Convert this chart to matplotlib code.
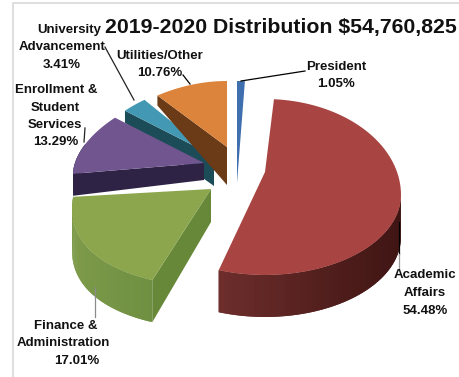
import numpy as np
import matplotlib
matplotlib.use("Agg")
import matplotlib.pyplot as plt
from matplotlib.colors import to_rgb

plt.rcParams["font.family"] = ["Liberation Sans", "DejaVu Sans"]

# Budget shares in percent, clockwise from twelve o'clock
departments = ["President", "Academic Affairs", "Finance & Administration",
               "Enrollment & Student Services", "University Advancement",
               "Utilities/Other"]
shares = [1.05, 54.48, 17.01, 13.29, 3.41, 10.76]
chart_title = "2019-2020 Distribution $54,760,825"

# Exploded position and tilted-disc shape of each slice, in figure pixels
apex_x = [237, 265, 211, 204, 214, 227]
apex_y = [183, 172, 189, 163, 156, 147]
rim_cy = [183, 195, 180.5, 163, 156, 147]
radius_x = [120, 136, 133, 129, 129, 133]
taper = [0.0, 0.0, 0.315, 0.178, 0.178, 0.21]
radius_up = [102, 96, 72, 72, 72, 66]
radius_down = [100, 80, 106, 70, 70, 70]
apex_depth = [0, 0, 33, 17, 30, 38]
max_depth = [0, 42, 42, 22, 12, 12]

top_colors = ["#3f6fae", "#a84543", "#8ba64d", "#70558f", "#4398b3", "#dc843c"]
wall_left = ["#2c4f80", "#6e2e2c", "#7d9b49", "#2e2245", "#1c4c58", "#6b3a17"]
wall_right = ["#2c4f80", "#3f1513", "#6f8f42", "#2e2245", "#1c4c58", "#6b3a17"]
cut_colors = ["#2c4f80", "#5a2422", "#678839", "#2e2245", "#1c4c58", "#6b3a17"]
draw_order = [4, 5, 0, 3, 2, 1]

W, H = 459, 377
fig = plt.figure(figsize=(W / 100, H / 100), dpi=100)
ax = fig.add_axes([0, 0, 1, 1])
ax.set_xlim(0, W)
ax.set_ylim(H, 0)
ax.axis("off")


def rim(i, angles):
    """Project clockwise angles (radians from the top) onto the slice's tilted rim."""
    s, c = np.sin(angles), np.cos(angles)
    x = apex_x[i] + radius_x[i] * (1 - taper[i] * c) * s
    y = rim_cy[i] - np.where(c > 0, radius_up[i], radius_down[i]) * c
    return x, y


def thickness(i, y):
    """The disc looks thicker toward the viewer."""
    return np.clip(10 + 0.55 * (y - 96), 10, max_depth[i])


def blend(a, b, t):
    a, b = np.array(to_rgb(a)), np.array(to_rgb(b))
    return tuple(a + (b - a) * t)


ax.plot([13, 13, 459], [H, 3, 3], color="#d8d8d8", lw=1.2, zorder=0)

edges = np.radians(np.concatenate([[0], np.cumsum(shares)]) * 3.6)

for z, i in enumerate(draw_order):
    base = 10 * (z + 1)
    angles = np.linspace(edges[i], edges[i + 1], 90)
    x, y = rim(i, angles)
    d = thickness(i, y)

    # Flat cut face running back to the centre of the disc
    if i in (2, 3, 4, 5):
        ax.fill([apex_x[i], x[0], x[0], apex_x[i]],
                [apex_y[i], y[0], y[0] + d[0], apex_y[i] + apex_depth[i]],
                color=cut_colors[i], lw=0, zorder=base)

    # Outer wall, shaded strip by strip where the rim faces the viewer;
    # neighbouring strips overlap so no seams show between them
    if i in (1, 2, 3):
        for k in range(len(angles) - 1):
            if np.cos(angles[k]) > 0.05 and i == 1:
                continue
            if np.cos(angles[k]) > 0.25:
                continue
            j = min(k + 2, len(angles) - 1)
            t = (x[k] - x.min()) / (x.max() - x.min())
            shade = blend(wall_left[i], wall_right[i], t)
            ax.fill([x[k], x[j], x[j], x[k]],
                    [y[k], y[j], y[j] + d[j], y[k] + d[k]],
                    color=shade, lw=0, zorder=base + 1)

    # Upper surface
    ax.fill(np.r_[apex_x[i], x], np.r_[apex_y[i], y], color=top_colors[i],
            lw=0, zorder=base + 2)

# Leader lines
leaders = [
    ([241, 305], [81, 71], "black"),
    ([183, 190], [75, 84], "black"),
    ([105, 134], [47, 100], "#222222"),
    ([85, 84], [128, 142], "#222222"),
    ([95, 95], [287, 317], "#8c8c8c"),
    ([399, 399], [222, 254], "black"),
    ([399, 399], [254, 270], "#9a9a9a"),
]
for lx, ly, col in leaders:
    ax.plot(lx, ly, color=col, lw=0.9, zorder=80)

# Labels, line by line, with the stated percentage taken from the shares
pct = [f"{v:.2f}%" for v in shares]
label_lines = [
    ("University", 69, 30), ("Advancement", 62, 47), (pct[4], 62, 65),
    ("Utilities/Other", 160, 56), (pct[5], 160, 73),
    ("President", 336, 67), (pct[0], 336, 84),
    ("Enrollment &", 56, 90), ("Student", 55, 108), ("Services", 55, 125),
    (pct[3], 56, 142),
    ("Finance &", 66, 326), ("Administration", 63, 343), (pct[2], 77, 361),
    ("Academic", 425, 275), ("Affairs", 425, 293), (pct[1], 425, 311),
]
for s, tx, ty in label_lines:
    ax.text(tx, ty, s, ha="center", va="center", fontsize=9.5,
            fontweight="bold", color="#111111", zorder=90)

ax.text(280.5, 27, chart_title, ha="center", va="center", fontsize=15.3,
        fontweight="bold", color="#111111", zorder=90)

fig.savefig("out.png", dpi=100)
